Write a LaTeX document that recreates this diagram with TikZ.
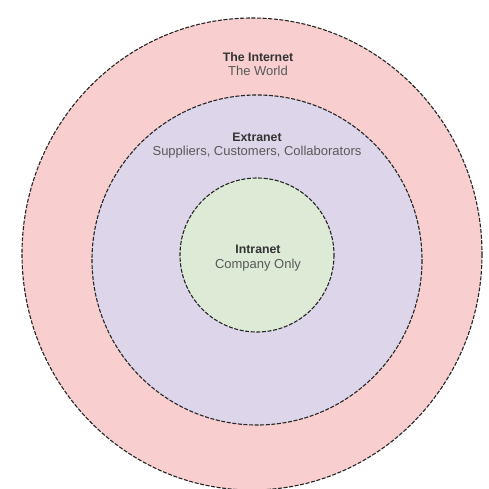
\documentclass[tikz,border=0pt]{standalone}
\usepackage{fontspec}
\setmainfont{Liberation Sans}
\begin{document}
\begin{tikzpicture}[x=1pt,y=-1pt,
  ring/.style={draw=black!85, line width=1.1pt, dash pattern=on 4pt off 1.6pt},
  ttl/.style={font=\bfseries\fontsize{12.3}{14}\selectfont, text=black!80, inner sep=0pt},
  sub/.style={font=\fontsize{13}{15}\selectfont, text=black!65, inner sep=0pt}]
\definecolor{pinkfill}{RGB}{248,206,206}
\definecolor{lavfill}{RGB}{221,213,233}
\definecolor{greenfill}{RGB}{220,234,214}
\useasboundingbox (0,0) rectangle (489,489);
\fill[white] (0,0) rectangle (489,489);
\draw[ring, fill=pinkfill] (252,254) ellipse [x radius=230, y radius=236];
\draw[ring, fill=lavfill] (257,260) circle [radius=165];
\draw[ring, fill=greenfill] (257,255) circle [radius=77];
\node[ttl] (inet) at (258,57) {The Internet};
\node[sub] (world) at (258,71) {The World};
\node[ttl] (extra) at (257,137) {Extranet};
\node[sub] (scc) at (257,152) {Suppliers, Customers, Collaborators};
\node[ttl] (intra) at (258,249) {Intranet};
\node[sub] (comp) at (258,265) {Company Only};
\end{tikzpicture}
\end{document}
